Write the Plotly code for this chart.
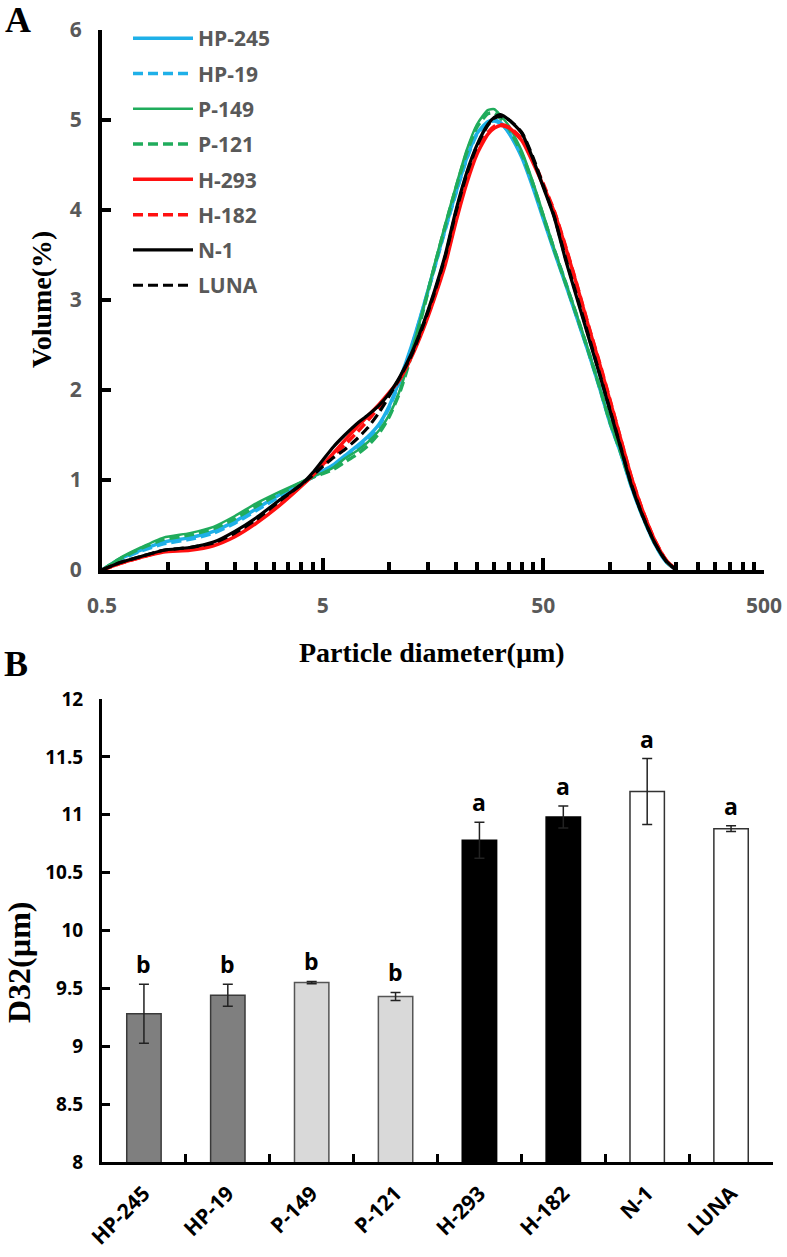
import plotly.graph_objects as go

# ---------------- Panel A data ----------------
diameter = [0.5, 0.6, 0.75, 0.95, 1.25, 1.6, 2.0, 2.5, 3.2, 4.0, 4.5, 5.0, 5.6, 6.3, 7.1,
            8.0, 9.0, 10.0, 11.2, 12.6, 14.2, 16.0, 18.0, 20.0, 22.5, 25.0, 28.0, 30.0, 32.0, 35.0,
            40.0, 45.0, 50.0, 56.0, 63.0, 71.0, 80.0, 90.0, 100.0, 112.0, 125.0, 140.0, 160.0, 180.0, 200.0]

vol_HP245 = [0, 0.12, 0.22, 0.31, 0.36, 0.43, 0.54, 0.68, 0.84, 0.97, 1.03, 1.10, 1.17, 1.27, 1.37,
             1.48, 1.62, 1.82, 2.12, 2.48, 2.90, 3.35, 3.80, 4.18, 4.58, 4.85, 4.98, 5.00, 4.97, 4.85,
             4.58, 4.24, 3.90, 3.54, 3.18, 2.80, 2.42, 2.02, 1.64, 1.30, 0.93, 0.61, 0.29, 0.09, 0.0]
vol_HP19 = [0, 0.11, 0.21, 0.29, 0.34, 0.41, 0.52, 0.66, 0.82, 0.96, 1.03, 1.09, 1.15, 1.24, 1.34,
            1.45, 1.60, 1.80, 2.10, 2.46, 2.89, 3.34, 3.79, 4.17, 4.57, 4.84, 4.97, 4.99, 4.96, 4.86,
            4.60, 4.26, 3.92, 3.56, 3.20, 2.81, 2.43, 2.03, 1.65, 1.31, 0.94, 0.61, 0.29, 0.09, 0.0]
vol_P149 = [0, 0.13, 0.25, 0.36, 0.41, 0.48, 0.60, 0.74, 0.87, 0.98, 1.04, 1.08, 1.14, 1.24, 1.32,
            1.42, 1.55, 1.72, 2.00, 2.41, 2.88, 3.38, 3.85, 4.25, 4.67, 4.95, 5.11, 5.12, 5.05, 4.93,
            4.65, 4.30, 3.95, 3.57, 3.20, 2.83, 2.44, 2.03, 1.65, 1.32, 0.95, 0.62, 0.30, 0.10, 0.0]
vol_P121 = [0, 0.12, 0.24, 0.34, 0.39, 0.46, 0.57, 0.71, 0.85, 0.97, 1.03, 1.07, 1.12, 1.20, 1.28,
            1.38, 1.52, 1.70, 1.98, 2.38, 2.86, 3.36, 3.83, 4.23, 4.64, 4.92, 5.07, 5.08, 5.02, 4.90,
            4.62, 4.28, 3.93, 3.56, 3.19, 2.82, 2.43, 2.03, 1.65, 1.31, 0.95, 0.62, 0.30, 0.10, 0.0]
vol_H293 = [0, 0.07, 0.14, 0.20, 0.22, 0.27, 0.37, 0.52, 0.72, 0.93, 1.05, 1.17, 1.30, 1.44, 1.58,
            1.71, 1.84, 1.97, 2.12, 2.36, 2.66, 3.01, 3.40, 3.85, 4.30, 4.62, 4.84, 4.91, 4.94, 4.91,
            4.77, 4.52, 4.27, 3.98, 3.59, 3.16, 2.71, 2.29, 1.89, 1.46, 1.04, 0.68, 0.33, 0.11, 0.0]
vol_H182 = [0, 0.07, 0.14, 0.21, 0.23, 0.28, 0.38, 0.53, 0.73, 0.94, 1.05, 1.16, 1.27, 1.39, 1.52,
            1.66, 1.81, 1.96, 2.13, 2.38, 2.68, 3.03, 3.43, 3.88, 4.33, 4.65, 4.86, 4.93, 4.95, 4.92,
            4.79, 4.55, 4.29, 3.99, 3.60, 3.17, 2.72, 2.30, 1.90, 1.46, 1.04, 0.68, 0.33, 0.11, 0.0]
vol_N1 = [0, 0.08, 0.15, 0.22, 0.25, 0.31, 0.43, 0.58, 0.78, 0.95, 1.08, 1.22, 1.37, 1.50, 1.62,
          1.72, 1.83, 1.96, 2.15, 2.40, 2.72, 3.09, 3.51, 3.98, 4.42, 4.72, 4.95, 5.03, 5.06, 5.00,
          4.85, 4.56, 4.25, 3.92, 3.45, 3.02, 2.59, 2.17, 1.78, 1.36, 0.95, 0.62, 0.30, 0.10, 0.0]
vol_LUNA = [0, 0.08, 0.15, 0.22, 0.25, 0.30, 0.41, 0.56, 0.77, 0.95, 1.05, 1.15, 1.25, 1.34, 1.45,
            1.58, 1.75, 1.93, 2.14, 2.38, 2.70, 3.07, 3.49, 3.96, 4.40, 4.71, 4.94, 5.02, 5.04, 5.00,
            4.86, 4.58, 4.27, 3.93, 3.47, 3.04, 2.61, 2.18, 1.79, 1.37, 0.96, 0.62, 0.30, 0.10, 0.0]

series_names = ["HP-245", "HP-19", "P-149", "P-121", "H-293", "H-182", "N-1", "LUNA"]
series_values = [vol_HP245, vol_HP19, vol_P149, vol_P121, vol_H293, vol_H182, vol_N1, vol_LUNA]
series_colors = ["#1fb0e8", "#1fb0e8", "#20ac5c", "#20ac5c", "#ff1010", "#ff1010", "#000000", "#000000"]
series_dash = ["solid", "10px,5px", "solid", "10px,5px", "solid", "10px,5px", "solid", "10px,5px"]
series_width = [3.5, 3.5, 2.5, 3.5, 3.5, 3.5, 3.2, 3.2]

x_tickvals = [0.5, 5, 50, 500]
x_ticktext = ["0.5", "5", "50", "500"]
x_minor = [0.5 * k for k in range(2, 10)] + [5 * k for k in range(2, 10)] + [50 * k for k in range(2, 10)]

# ---------------- Panel B data ----------------
cultivars = ["HP-245", "HP-19", "P-149", "P-121", "H-293", "H-182", "N-1", "LUNA"]
d32 = [9.28, 9.44, 9.55, 9.43, 10.78, 10.98, 11.20, 10.88]
d32_err = [0.255, 0.095, 0.01, 0.035, 0.155, 0.095, 0.285, 0.025]
letters = ["b", "b", "b", "b", "a", "a", "a", "a"]
bar_fill = ["#7f7f7f", "#7f7f7f", "#d9d9d9", "#d9d9d9", "#000000", "#000000", "#ffffff", "#ffffff"]
bar_edge = ["#3a3a3a", "#3a3a3a", "#555555", "#555555", "#000000", "#000000", "#333333", "#333333"]

W, H = 787, 1257
def px_x(p):
    return p / W
def px_y(p):
    return 1 - p / H

fig = go.Figure()

for name, vals, col, dash, lw in zip(series_names, series_values, series_colors, series_dash, series_width):
    fig.add_trace(go.Scatter(
        x=diameter, y=vals, mode="lines", name=name,
        line=dict(color=col, dash=dash, width=lw, shape="spline", smoothing=0.6),
        legendgroup=name, xaxis="x", yaxis="y"))

fig.add_trace(go.Bar(
    x=cultivars, y=d32, xaxis="x2", yaxis="y2", showlegend=False,
    marker=dict(color=bar_fill, line=dict(color=bar_edge, width=1.5)),
    error_y=dict(type="data", array=d32_err, visible=True, color="#222222", thickness=1.5, width=5)))

annotations = []
for c, v, e, t in zip(cultivars, d32, d32_err, letters):
    annotations.append(dict(x=c, y=v + e, xref="x2", yref="y2", text=t, showarrow=False,
                            xanchor="center", yanchor="bottom", yshift=2,
                            font=dict(family="Open Sans", size=23, color="#000000", weight="bold")))

serif = "Liberation Serif"
def label(x, y, text, size, angle=0):
    return dict(x=px_x(x), y=px_y(y), xref="paper", yref="paper", text=text, showarrow=False,
                xanchor="center", yanchor="middle", textangle=angle,
                font=dict(family=serif, size=size, color="#000000"))

annotations += [
    label(18, 20, "<b>A</b>", 36),
    label(16, 664, "<b>B</b>", 36),
    label(42, 300, "<b>Volume(%)</b>", 28, -90),
    label(432, 652, "<b>Particle diameter(µm)</b>", 28),
    label(19, 962, "<b>D32(µm)</b>", 32, -90),
]

gray = "#595959"
fig.update_layout(
    width=W, height=H, margin=dict(l=0, r=0, t=0, b=0, autoexpand=False),
    paper_bgcolor="white", plot_bgcolor="white",
    showlegend=True,
    legend=dict(x=px_x(128), y=px_y(18), xanchor="left", yanchor="top",
                font=dict(family="Open Sans", size=21, color=gray, weight="bold"),
                traceorder="grouped", tracegroupgap=5, itemwidth=60, bgcolor="rgba(0,0,0,0)"),
    xaxis=dict(type="log", domain=[px_x(102), px_x(764)], anchor="y", automargin=False,
               range=[-0.30103, 2.69897], tickmode="array", tickvals=x_tickvals, ticktext=x_ticktext,
               ticks="inside", ticklen=12, tickwidth=4, tickcolor="#000000",
               showline=True, linewidth=4, linecolor="#000000", showgrid=False, zeroline=False,
               tickfont=dict(family="Open Sans", size=21, color=gray, weight="bold"),
               ticklabelstandoff=14,
               minor=dict(tickmode="array", tickvals=x_minor, ticks="inside", ticklen=8, tickwidth=4,
                          tickcolor="#000000", showgrid=False)),
    yaxis=dict(domain=[px_y(570), px_y(30)], anchor="x", range=[0, 6], tickmode="linear", tick0=0, dtick=1,
               automargin=False,
               ticks="inside", ticklen=9, tickwidth=4, tickcolor="#000000",
               showline=True, linewidth=4, linecolor="#000000", showgrid=False, zeroline=False,
               tickfont=dict(family="Open Sans", size=21, color=gray, weight="bold"),
               ticklabelstandoff=12),
    xaxis2=dict(domain=[px_x(102), px_x(773)], anchor="y2", type="category", automargin=False,
                ticks="inside", tickson="boundaries", ticklen=8, tickwidth=3, tickcolor="#000000",
                showline=True, linewidth=3, linecolor="#000000", showgrid=False, zeroline=False,
                tickangle=-45, tickfont=dict(family="Open Sans", size=21, color="#000000", weight="bold"),
                ticklabelstandoff=8),
    yaxis2=dict(domain=[px_y(1162), px_y(699)], anchor="x2", range=[8, 12], tickmode="linear",
                automargin=False,
                tick0=8, dtick=0.5, ticks="inside", ticklen=8, tickwidth=3, tickcolor="#000000",
                showline=True, linewidth=3, linecolor="#000000", showgrid=False, zeroline=False,
                tickfont=dict(family="Open Sans", size=19, color="#000000", weight="bold"),
                ticklabelstandoff=12),
    bargap=0.59,
    annotations=annotations,
)

fig.write_html("out.html", config={"displayModeBar": False},
               post_script="document.body.style.margin='0px';")
